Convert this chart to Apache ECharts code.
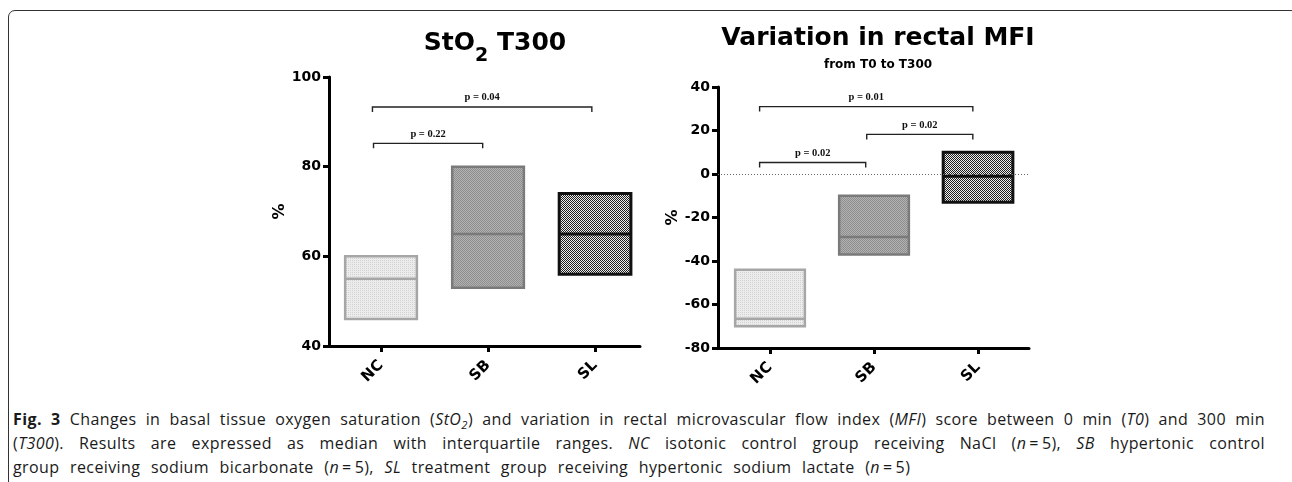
<!DOCTYPE html>
<html>
<head>
<meta charset="utf-8">
<script src="https://cdn.jsdelivr.net/npm/echarts@6/dist/echarts.min.js"></script>
<style>
  html, body { margin: 0; padding: 0; background: #fff; }
  body { width: 1292px; height: 482px; position: relative; overflow: hidden; }
  #frame { position: absolute; left: 8px; top: 10px; width: 1290px; height: 520px;
    border: 1.5px solid #333; border-radius: 7px; box-sizing: border-box; }
  #chart { position: absolute; left: 0; top: 0; width: 1292px; height: 400px; }
  #caption { position: absolute; left: 13px; top: 407px; width: 1252px;
    font-family: "Open Sans", sans-serif; font-size: 16px; letter-spacing: 0.4px; word-spacing: 2px;
    color: #1a1a1a; line-height: 24px; }
  #caption div { white-space: nowrap; }
  #caption .j { text-align: justify; text-align-last: justify; white-space: normal; }
  #caption .last { word-spacing: 6px; }
  #caption sub { font-size: 70%; line-height: 0; }
</style>
</head>
<body>
<div id="frame"></div>
<div id="chart"></div>
<div id="caption">
  <div class="j"><b>Fig. 3</b> Changes in basal tissue oxygen saturation (<i>StO<sub>2</sub></i>) and variation in rectal microvascular flow index (<i>MFI</i>) score between 0 min (<i>T0</i>) and 300 min</div>
  <div class="j">(<i>T300</i>). Results are expressed as median with interquartile ranges. <i>NC</i> isotonic control group receiving NaCl (<i>n</i>&thinsp;=&thinsp;5), <i>SB</i> hypertonic control</div>
  <div class="last">group receiving sodium bicarbonate (<i>n</i>&thinsp;=&thinsp;5), <i>SL</i> treatment group receiving hypertonic sodium lactate (<i>n</i>&thinsp;=&thinsp;5)</div>
</div>
<script>
// groups on the x axis
var groups = ['NC', 'SB', 'SL'];

// StO2 at T300 (%): quartiles and median
var sto2Q1  = [46, 53, 56];
var sto2Med = [55, 65, 65];
var sto2Q3  = [60, 80, 74];
var sto2Ticks = [40, 100, 20]; // min, max, step

// variation in rectal MFI from T0 to T300 (%)
var mfiQ1  = [-70, -37, -13];
var mfiMed = [-66.5, -29, -1];
var mfiQ3  = [-44, -10, 10];
var mfiTicks = [-80, 40, 20];

// significance brackets: [from, to, height, label]
var sto2Pairs = [
  [-0.07, 0.95, 85.2, 'p = 0.22'],
  [-0.08, 1.97, 93.3, 'p = 0.04']
];
var mfiPairs = [
  [-0.1, 0.92, 5.3, 'p = 0.02'],
  [0.93, 1.95, 18.2, 'p = 0.02'],
  [-0.1, 1.95, 31, 'p = 0.01']
];

var BOLD = 'DejaVu Sans';

function pattern(base, dot, checker) {
  var c = document.createElement('canvas');
  c.width = 2; c.height = 2;
  var ctx = c.getContext('2d');
  ctx.fillStyle = base;
  ctx.fillRect(0, 0, 2, 2);
  ctx.fillStyle = dot;
  ctx.fillRect(0, 0, 1, 1);
  if (checker) ctx.fillRect(1, 1, 1, 1);
  return { image: c, repeat: 'repeat' };
}

var fills = [
  pattern('#ececec', '#d2d2d2', false),
  pattern('#b2b2b2', '#8e8e8e', true),
  pattern('#eeeeee', '#1e1e1e', true)
];
var strokes = ['#a6a6a6', '#7a7a7a', '#111111'];
var widths = [2.5, 2.5, 3];

function boxItem(params, api) {
  var i = api.value(0);
  var lo = api.coord([i, api.value(1)]);
  var md = api.coord([i, api.value(2)]);
  var hi = api.coord([i, api.value(3)]);
  var w = api.size([0.67, 0])[0];
  return {
    type: 'group',
    children: [
      { type: 'rect', shape: { x: lo[0] - w / 2, y: hi[1], width: w, height: lo[1] - hi[1] },
        style: { fill: fills[i], stroke: strokes[i], lineWidth: widths[i] } },
      { type: 'line', shape: { x1: lo[0] - w / 2, y1: md[1], x2: lo[0] + w / 2, y2: md[1] },
        style: { stroke: strokes[i], lineWidth: widths[i] } }
    ]
  };
}

function bracketItem(params, api) {
  var a = api.coord([api.value(0), api.value(2)]);
  var b = api.coord([api.value(1), api.value(2)]);
  return {
    type: 'group',
    children: [
      { type: 'polyline', shape: { points: [[a[0], a[1] + 5], [a[0], a[1]], [b[0], b[1]], [b[0], b[1] + 5]] },
        style: { stroke: '#222', lineWidth: 1.4, fill: null } },
      { type: 'text', x: (a[0] + b[0]) / 2, y: a[1] - 4,
        style: { text: api.value(3), font: 'bold 10.5px "Liberation Serif"', fill: '#111',
          align: 'center', verticalAlign: 'bottom' } }
    ]
  };
}

function xAxisOf(g, min, max) {
  return {
    type: 'value', gridIndex: g, min: min, max: max,
    axisLine: { onZero: false, lineStyle: { color: '#000', width: 3 } },
    axisTick: { customValues: [0, 1, 2], length: 6, lineStyle: { color: '#000', width: 3 } },
    axisLabel: { customValues: [0, 1, 2], formatter: function (v) { return groups[Math.round(v)]; },
      rotate: 45, margin: 17, color: '#000', fontFamily: BOLD, fontWeight: 'bold', fontSize: 15 },
    splitLine: { show: false }
  };
}

function yAxisOf(g, ticks) {
  return {
    type: 'value', gridIndex: g, min: ticks[0], max: ticks[1], interval: ticks[2],
    name: '%', nameLocation: 'middle', nameGap: 37,
    nameTextStyle: { color: '#000', fontFamily: BOLD, fontWeight: 'bold', fontSize: 16 },
    axisLine: { show: true, onZero: false, lineStyle: { color: '#000', width: 3 } },
    axisTick: { show: true, length: 6, lineStyle: { color: '#000', width: 3 } },
    axisLabel: { margin: 8, color: '#000', fontFamily: BOLD, fontWeight: 'bold', fontSize: 14 },
    splitLine: { show: false }
  };
}

function rows(q1, md, q3) {
  return groups.map(function (g, i) { return [i, q1[i], md[i], q3[i]]; });
}

var chart = echarts.init(document.getElementById('chart'), null, { renderer: 'canvas' });

chart.setOption({
  animation: false,
  title: [
    { text: '{m|StO}{s|2}{m| T300}', left: 490, top: 22, textAlign: 'center',
      textStyle: { rich: {
        m: { fontFamily: BOLD, fontWeight: 'bold', fontSize: 25, lineHeight: 32, color: '#000' },
        s: { fontFamily: BOLD, fontWeight: 'bold', fontSize: 19, lineHeight: 19, color: '#000',
          verticalAlign: 'top', padding: [20, 0, 0, 0] }
      } } },
    { text: 'Variation in rectal MFI', left: 873, top: 21, textAlign: 'center',
      textStyle: { fontFamily: BOLD, fontWeight: 'bold', fontSize: 25, color: '#000' } },
    { text: 'from T0 to T300', left: 873, top: 54, textAlign: 'center',
      textStyle: { fontFamily: BOLD, fontWeight: 'bold', fontSize: 12, color: '#000' } }
  ],
  grid: [
    { left: 329, top: 77, width: 311, height: 269 },
    { left: 718, top: 87, width: 311, height: 261 }
  ],
  xAxis: [xAxisOf(0, -0.486, 2.42), xAxisOf(1, -0.5, 2.49)],
  yAxis: [yAxisOf(0, sto2Ticks), yAxisOf(1, mfiTicks)],
  series: [
    { type: 'custom', xAxisIndex: 0, yAxisIndex: 0, renderItem: boxItem,
      data: rows(sto2Q1, sto2Med, sto2Q3), silent: true },
    { type: 'custom', xAxisIndex: 0, yAxisIndex: 0, renderItem: bracketItem,
      data: sto2Pairs, silent: true },
    { type: 'custom', xAxisIndex: 1, yAxisIndex: 1, renderItem: boxItem,
      data: rows(mfiQ1, mfiMed, mfiQ3), silent: true, z: 3,
      markLine: { silent: true, symbol: 'none', label: { show: false },
        lineStyle: { color: '#666', type: [1, 2], width: 1 }, data: [{ yAxis: 0 }] } },
    { type: 'custom', xAxisIndex: 1, yAxisIndex: 1, renderItem: bracketItem,
      data: mfiPairs, silent: true }
  ]
});
</script>
</body>
</html>
